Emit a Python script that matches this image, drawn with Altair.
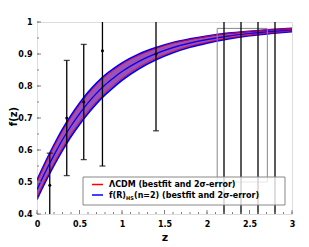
import altair as alt
import pandas as pd

# ---- data ----
z_grid = [0, 0.1, 0.2, 0.3, 0.4, 0.5, 0.6, 0.7, 0.8, 0.9, 1.0, 1.2, 1.4, 1.6, 1.8, 2.0, 2.25, 2.5, 2.75, 3.0]
f_lcdm = [0.477, 0.533, 0.585, 0.633, 0.676, 0.714, 0.748, 0.778, 0.804, 0.826, 0.846, 0.878, 0.902, 0.921, 0.935, 0.946, 0.957, 0.965, 0.971, 0.976]
err_lcdm = [0.024, 0.025, 0.026, 0.026, 0.026, 0.026, 0.026, 0.026, 0.025, 0.023, 0.022, 0.018, 0.015, 0.013, 0.010, 0.009, 0.007, 0.006, 0.005, 0.004]
f_fr = [0.476, 0.532, 0.584, 0.632, 0.675, 0.713, 0.747, 0.777, 0.803, 0.825, 0.845, 0.877, 0.901, 0.920, 0.934, 0.945, 0.956, 0.964, 0.970, 0.975]
err_fr = [0.030, 0.031, 0.032, 0.033, 0.033, 0.033, 0.033, 0.032, 0.031, 0.029, 0.027, 0.023, 0.019, 0.016, 0.013, 0.011, 0.009, 0.007, 0.006, 0.005]

obs_z = [0.15, 0.35, 0.55, 0.77, 1.4, 2.2, 2.4, 2.6, 2.8]
obs_f = [0.49, 0.70, 0.75, 0.91, 0.90, 1.15, 1.15, 1.15, 1.15]
obs_err = [0.10, 0.18, 0.18, 0.36, 0.24, 1.0, 1.0, 1.0, 1.0]

box_z = [2.12, 2.71]
box_f = [0.50, 0.98]

x_major = [0, 0.5, 1, 1.5, 2, 2.5, 3]
x_minor = [round(0.1 * i, 1) for i in range(31)]
y_major = [0.4, 0.5, 0.6, 0.7, 0.8, 0.9, 1.0]
y_minor = [round(0.4 + 0.05 * i, 2) for i in range(13)]

W, H = 255, 192
FONT = "DejaVu Sans"

curves = pd.DataFrame({
    "z": z_grid,
    "l_best": f_lcdm,
    "l_lo": [a - b for a, b in zip(f_lcdm, err_lcdm)],
    "l_hi": [a + b for a, b in zip(f_lcdm, err_lcdm)],
    "r_best": f_fr,
    "r_lo": [a - b for a, b in zip(f_fr, err_fr)],
    "r_hi": [a + b for a, b in zip(f_fr, err_fr)],
})
obs = pd.DataFrame({
    "z": obs_z, "f": obs_f,
    "lo": [a - b for a, b in zip(obs_f, obs_err)],
    "hi": [a + b for a, b in zip(obs_f, obs_err)],
})
box = pd.DataFrame({"z": [box_z[0]], "z2": [box_z[1]], "f": [box_f[0]], "f2": [box_f[1]]})

xs = alt.Scale(domain=[0, 3], nice=False, zero=False)
ys = alt.Scale(domain=[0.4, 1.0], nice=False, zero=False)

xaxis = alt.Axis(values=x_major, format="~g", ticks=False, domain=False, grid=False,
                 labelOverlap=False, labelBound=False, labelFlush=False,
                 labelFont=FONT, labelFontWeight="bold", labelFontSize=8, labelColor="black",
                 labelPadding=6, title="z", titleFont=FONT, titleFontWeight="bold",
                 titleFontSize=11, titleColor="black", titlePadding=3)
yaxis = alt.Axis(values=y_major, format="~g", ticks=False, domain=False, grid=False,
                 labelOverlap=False, labelBound=False, labelFlush=False,
                 labelFont=FONT, labelFontWeight="bold", labelFontSize=8, labelColor="black",
                 labelPadding=5, title="f(z)", titleFont=FONT, titleFontWeight="bold",
                 titleFontSize=10, titleColor="black", titleX=-23.5, titleY=H / 2 - 2,
                 titleBaseline="middle", titleAlign="center", titleAngle=270)


def XX(f):
    return alt.X(f, scale=xs, axis=xaxis, title="z")


def YY(f):
    return alt.Y(f, scale=ys, axis=yaxis, title="f(z)")


base = alt.Chart(curves)

band_r = base.mark_area(color="#0000ff", opacity=0.55, interpolate="monotone", clip=True).encode(
    x=XX("z:Q"), y=YY("r_lo:Q"), y2="r_hi:Q")
band_l = base.mark_area(color="#ff0000", opacity=0.28, interpolate="monotone", clip=True).encode(
    x=XX("z:Q"), y=YY("l_lo:Q"), y2="l_hi:Q")


def line(field, color, w):
    return base.mark_line(color=color, strokeWidth=w, interpolate="monotone", clip=True).encode(
        x=XX("z:Q"), y=YY(f"{field}:Q"))


lines = [line("r_lo", "#0000ff", 1.7), line("r_hi", "#0000ff", 1.7),
         line("l_lo", "#ff0000", 0.8), line("l_hi", "#ff0000", 0.8),
         line("l_best", "#ff0000", 0.8), line("r_best", "#0000ff", 1.2)]

rect = alt.Chart(box).mark_rect(fillOpacity=0, stroke="#888888", strokeWidth=1, clip=True).encode(
    x=XX("z:Q"), x2="z2:Q", y=YY("f:Q"), y2="f2:Q")

ob = alt.Chart(obs)
bars = ob.mark_rule(color="black", strokeWidth=1.3, clip=True).encode(
    x=XX("z:Q"), y=YY("lo:Q"), y2="hi:Q")
cap_lo = ob.mark_tick(color="black", orient="horizontal", size=6, thickness=1.3, clip=True).encode(
    x=XX("z:Q"), y=YY("lo:Q"))
cap_hi = ob.mark_tick(color="black", orient="horizontal", size=6, thickness=1.3, clip=True).encode(
    x=XX("z:Q"), y=YY("hi:Q"))
pts = ob.mark_circle(color="black", size=9, opacity=1, clip=True).encode(
    x=XX("z:Q"), y=YY("f:Q"))

tk = "#808080"
xmaj = alt.Chart(pd.DataFrame({"v": x_major})).mark_rule(color=tk, strokeWidth=1).encode(
    x=XX("v:Q"), y=alt.value(H), y2=alt.value(H - 4))
xmin = alt.Chart(pd.DataFrame({"v": x_minor})).mark_rule(color=tk, strokeWidth=1).encode(
    x=XX("v:Q"), y=alt.value(H), y2=alt.value(H - 2))
ymaj = alt.Chart(pd.DataFrame({"v": y_major})).mark_rule(color=tk, strokeWidth=1).encode(
    y=YY("v:Q"), x=alt.value(0), x2=alt.value(4))
ymin = alt.Chart(pd.DataFrame({"v": y_minor})).mark_rule(color=tk, strokeWidth=1).encode(
    y=YY("v:Q"), x=alt.value(0), x2=alt.value(2))

# ---- legend (drawn by hand to allow the subscript) ----
leg = alt.Chart(pd.DataFrame({"a": [0]}))
leg_box = leg.mark_rect(fill="white", fillOpacity=0.8, stroke="#888888", strokeWidth=1).encode(
    x=alt.value(46), x2=alt.value(248), y=alt.value(155), y2=alt.value(183))
leg_l1 = leg.mark_rule(color="#ff0000", strokeWidth=1.5).encode(
    x=alt.value(55), x2=alt.value(66), y=alt.value(162.5))
leg_l2 = leg.mark_rule(color="#0000ff", strokeWidth=1.5).encode(
    x=alt.value(55), x2=alt.value(66), y=alt.value(173))


def txt(s, x, y, size=8):
    return leg.mark_text(text=s, font=FONT, fontWeight="bold", fontSize=size, align="left",
                         baseline="middle", color="black").encode(x=alt.value(x), y=alt.value(y))


leg_t = [txt("ΛCDM (bestfit and 2σ-error)", 72, 163),
         txt("f(R)", 72, 173.5),
         txt("HS", 89, 176, 5),
         txt("(n=2) (bestfit and 2σ-error)", 97, 173.5)]

chart = alt.layer(band_r, band_l, *lines, rect, bars, cap_lo, cap_hi, pts,
                  xmaj, xmin, ymaj, ymin, leg_box, leg_l1, leg_l2, *leg_t).properties(
    width=W, height=H,
    autosize=alt.AutoSizeParams(type="none"),
    padding={"left": 29, "top": 14, "right": 9, "bottom": 36},
).configure_view(stroke="#808080", strokeWidth=1).configure_axis(
    labelOverlap=False
).configure(background="white")

chart.save("out.html", embed_options={"renderer": "svg", "actions": False})
